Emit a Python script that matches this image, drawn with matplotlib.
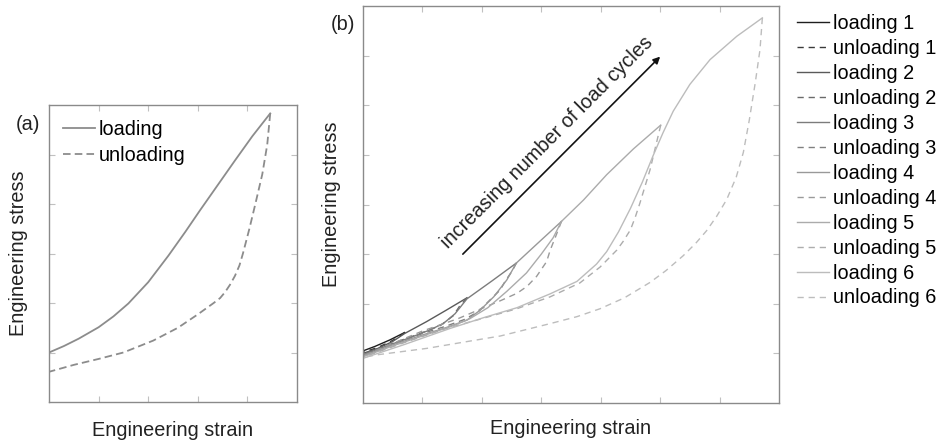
import matplotlib
matplotlib.use("Agg")
import matplotlib.pyplot as plt

plt.rcParams['font.family'] = ['Liberation Sans', 'DejaVu Sans']
FS = 14.3

# ---- panel (a): single load cycle ----
a_load_x = [0.0, 0.3, 0.6, 1.0, 1.3, 1.6, 2.0, 2.41, 2.75, 3.05, 3.4, 3.75, 4.1, 4.46]
a_load_y = [1.0, 1.13, 1.28, 1.51, 1.73, 1.99, 2.42, 2.96, 3.44, 3.88, 4.38, 4.88, 5.37, 5.83]
a_unload_x = [4.46, 4.40, 4.30, 4.16, 4.04, 3.91, 3.84, 3.75, 3.65, 3.55, 3.45, 3.32, 3.0, 2.6,
              2.1, 1.5, 1.0, 0.5, 0.0]
a_unload_y = [5.83, 5.2, 4.6, 4.0, 3.5, 3.0, 2.76, 2.55, 2.37, 2.22, 2.1, 2.0, 1.77, 1.5,
              1.24, 1.0, 0.87, 0.75, 0.61]

# ---- panel (b): six load cycles ----
load_x = [
    [0.0, 0.2, 0.45, 0.70],
    [0.0, 0.25, 0.5, 0.70, 1.07, 1.4, 1.75],
    [0.0, 0.4, 0.8, 1.1, 1.35, 1.55, 1.75, 2.17, 2.58],
    [0.0, 0.5, 1.0, 1.4, 1.75, 1.97, 2.2, 2.42, 2.58, 2.95, 3.34],
    [0.0, 0.5, 1.0, 1.5, 1.8, 2.1, 2.42, 2.75, 3.0, 3.2, 3.34, 3.71, 4.1, 4.55, 5.01],
    [0.0, 0.7, 1.46, 2.03, 2.59, 3.15, 3.6, 3.93, 4.1, 4.3, 4.5, 4.7, 4.88, 5.05, 5.22, 5.5,
     5.84, 6.29, 6.72],
]
load_y = [
    [1.05, 1.14, 1.27, 1.42],
    [1.0, 1.1, 1.24, 1.40, 1.64, 1.87, 2.12],
    [0.97, 1.15, 1.32, 1.46, 1.6, 1.8, 2.1, 2.46, 2.82],
    [0.95, 1.17, 1.37, 1.52, 1.67, 1.87, 2.14, 2.48, 2.82, 3.23, 3.66],
    [0.93, 1.15, 1.35, 1.55, 1.7, 1.92, 2.25, 2.62, 3.0, 3.33, 3.66, 4.09, 4.6, 5.12, 5.6],
    [0.9, 1.18, 1.5, 1.72, 1.92, 2.2, 2.45, 2.8, 3.05, 3.45, 3.92, 4.45, 4.98, 5.45, 5.88, 6.42,
     6.92, 7.39, 7.76],
]
unload_x = [
    [0.70, 0.6, 0.45, 0.25, 0.0],
    [1.75, 1.63, 1.52, 1.3, 1.07, 0.8, 0.4, 0.0],
    [2.58, 2.51, 2.39, 2.31, 2.14, 1.94, 1.7, 1.4, 1.0, 0.5, 0.0],
    [3.34, 3.24, 3.15, 3.09, 2.92, 2.76, 2.59, 2.31, 2.03, 1.6, 1.0, 0.5, 0.0],
    [5.01, 4.95, 4.83, 4.66, 4.58, 4.5, 4.38, 4.27, 3.99, 3.65, 3.15, 2.59, 2.0, 1.4, 0.7, 0.0],
    [6.72, 6.68, 6.6, 6.5, 6.4, 6.28, 6.12, 5.95, 5.78, 5.6, 5.39, 5.1, 4.83, 4.4, 3.99, 3.6,
     3.15, 2.31, 1.91, 1.07, 0.23, 0.0],
]
unload_y = [
    [1.42, 1.33, 1.23, 1.12, 1.02],
    [2.12, 1.96, 1.76, 1.56, 1.45, 1.33, 1.16, 0.98],
    [2.82, 2.66, 2.45, 2.28, 2.08, 1.84, 1.68, 1.55, 1.40, 1.18, 0.95],
    [3.66, 3.35, 3.08, 2.85, 2.55, 2.35, 2.21, 2.06, 1.92, 1.7, 1.45, 1.2, 0.95],
    [5.6, 5.3, 4.7, 4.03, 3.74, 3.49, 3.26, 3.08, 2.74, 2.42, 2.14, 1.9, 1.7, 1.5, 1.22, 0.92],
    [7.76, 7.12, 6.45, 5.7, 5.05, 4.55, 4.1, 3.76, 3.47, 3.22, 2.97, 2.67, 2.43, 2.12, 1.9, 1.74,
     1.6, 1.35, 1.27, 1.10, 0.97, 0.92],
]
load_colors = ['#1e1e1e', '#5a5a5a', '#7c7c7c', '#999999', '#ababab', '#bcbcbc']
unload_colors = ['#3a3a3a', '#6a6a6a', '#808080', '#9a9a9a', '#adadad', '#bdbdbd']

fig = plt.figure(figsize=(9.45, 4.47), dpi=100)
ax_a = fig.add_axes([49 / 945, 45 / 447, 248 / 945, 297 / 447])
ax_b = fig.add_axes([363 / 945, 44 / 447, 416 / 945, 397 / 447])


def style_axes(ax, xmax, ymax):
    ax.set_xlim(0, xmax)
    ax.set_ylim(0, ymax)
    ax.set_xticks(range(1, xmax))
    ax.set_yticks(range(1, ymax))
    ax.tick_params(direction='in', length=4, width=0.8, color='#c0c0c0',
                   top=True, right=True, labelbottom=False, labelleft=False)
    for sp in ax.spines.values():
        sp.set_color('#8a8a8a')
        sp.set_linewidth(1.0)


style_axes(ax_a, 5, 6)
style_axes(ax_b, 7, 8)

ax_a.plot(a_load_x, a_load_y, color='#8c8c8c', lw=1.3, label='loading')
ax_a.plot(a_unload_x, a_unload_y, color='#8c8c8c', lw=1.3, dashes=(4.2, 2.3), label='unloading')
ax_a.legend(loc='upper left', bbox_to_anchor=(0.0, 0.995), frameon=False, fontsize=FS,
            handlelength=1.6, handletextpad=0.2, borderaxespad=0.3, borderpad=0.4,
            labelspacing=0.32)

for i in range(6):
    ax_b.plot(load_x[i], load_y[i], color=load_colors[i], lw=1.0, label=f'loading {i + 1}')
    ax_b.plot(unload_x[i], unload_y[i], color=unload_colors[i], lw=1.0, dashes=(4.5, 3.5),
              label=f'unloading {i + 1}')
ax_b.legend(loc='upper left', bbox_to_anchor=(1.0, 1.025), frameon=False, fontsize=FS,
            handlelength=1.6, handletextpad=0.2, borderaxespad=0.5, borderpad=0.4,
            labelspacing=0.3)

ax_b.annotate('', xy=(5.0, 6.98), xytext=(1.68, 3.0),
              arrowprops=dict(arrowstyle='-|>', color='#111111', lw=1.2, mutation_scale=10,
                              shrinkA=0, shrinkB=0))
ax_b.text(3.10, 5.26, 'increasing number of load cycles', fontsize=FS, rotation=45,
          rotation_mode='anchor', ha='center', va='center', color='#222222')

for ax, xl, yl in [(ax_a, -0.064, -0.085), (ax_b, -0.040, -0.053)]:
    ax.set_xlabel('Engineering strain', fontsize=FS, color='#222222')
    ax.set_ylabel('Engineering stress', fontsize=FS, color='#222222')
    ax.xaxis.set_label_coords(0.5, xl)
    ax.yaxis.set_label_coords(yl, 0.5)

fig.text(28 / 945, 1 - 125 / 447, '(a)', fontsize=FS, ha='center', va='center', color='#222222')
fig.text(343 / 945, 1 - 25 / 447, '(b)', fontsize=FS, ha='center', va='center', color='#222222')

fig.savefig('out.png', dpi=100)
